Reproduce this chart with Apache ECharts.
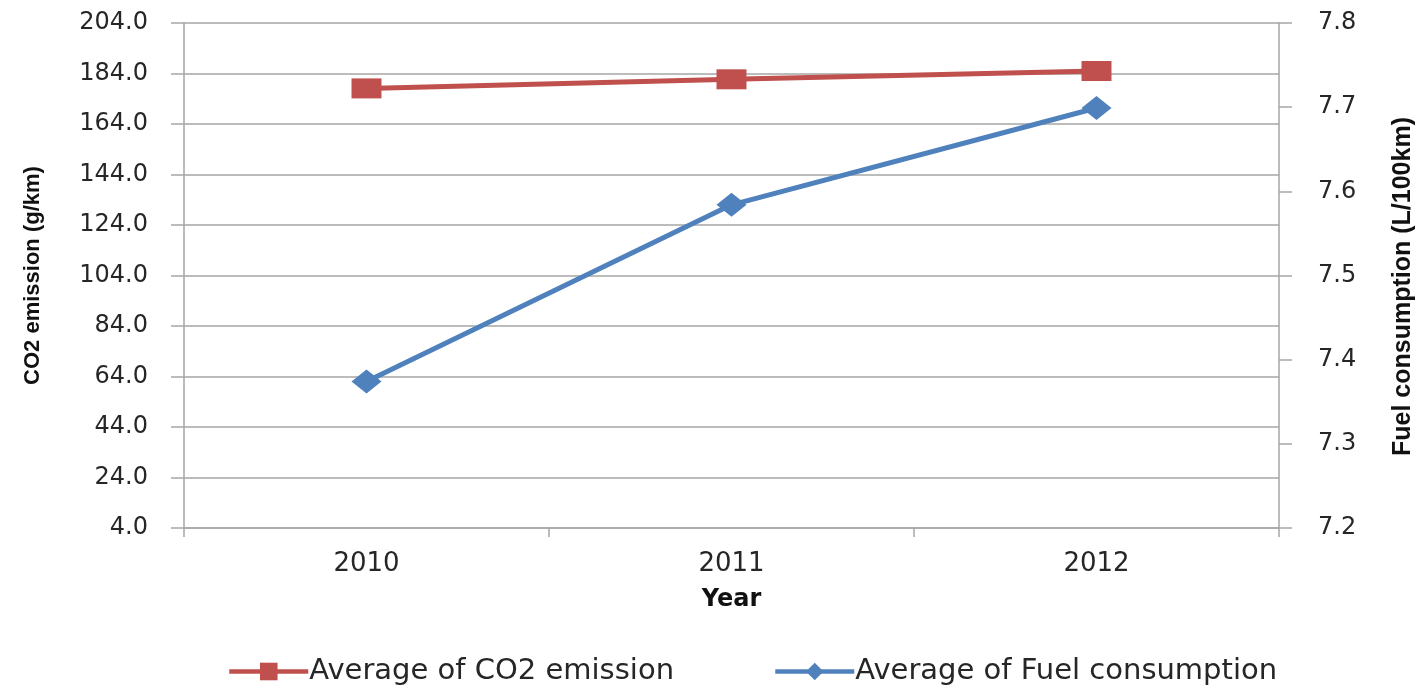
<!DOCTYPE html>
<html>
<head>
<meta charset="utf-8">
<script src="https://cdn.jsdelivr.net/npm/echarts@6/dist/echarts.min.js"></script>
<style>
  html, body { margin: 0; padding: 0; background: #fff; }
  #chart { width: 1420px; height: 685px; }
</style>
</head>
<body>
<div id="chart"></div>
<script>
  // values
  const years = ['2010', '2011', '2012'];
  const co2Emission = [178.1, 181.7, 185.0];
  const fuelConsumption = [7.374, 7.584, 7.699];

  const gridGray = '#a6a6a6';
  const labelColor = '#262626';

  // legend entry, one legend per item so each can sit where the original has it
  function legendAt(left, name) {
    return {
      left: left,
      top: 652,
      itemWidth: 79,
      itemHeight: 22,
      itemGap: 0,
      lineStyle: { width: 4.5 },
      textStyle: { fontFamily: 'DejaVu Sans', fontSize: 29, color: labelColor, padding: [0, 0, 0, -4] },
      data: [name]
    };
  }

  const chart = echarts.init(document.getElementById('chart'));
  const option = {
    backgroundColor: '#ffffff',
    animation: false,
    grid: { left: 184, right: 141, top: 23, bottom: 157, outerBoundsMode: 'none' },
    legend: [
      legendAt(222, 'Average of CO2 emission'),
      legendAt(768, 'Average of Fuel consumption')
    ],
    xAxis: {
      type: 'category',
      data: years,
      boundaryGap: true,
      name: 'Year',
      nameLocation: 'middle',
      nameGap: 60,
      nameTextStyle: { fontFamily: 'DejaVu Sans', fontWeight: 'bold', fontSize: 24, color: '#111' },
      axisLine: { lineStyle: { color: gridGray, width: 1.5 } },
      axisTick: { show: true, length: 9, lineStyle: { color: gridGray, width: 1.5 } },
      axisLabel: { margin: 23, fontFamily: 'DejaVu Sans', fontSize: 26, color: labelColor }
    },
    yAxis: [
      {
        type: 'value',
        min: 4,
        max: 204,
        interval: 20,
        name: 'CO2 emission (g/km)',
        nameLocation: 'middle',
        nameRotate: 90,
        nameGap: 140,
        nameTextStyle: { fontFamily: 'Liberation Sans', fontWeight: 'bold', fontSize: 22, color: '#111' },
        axisLine: { show: true, lineStyle: { color: gridGray, width: 1.5 } },
        axisTick: { show: true, length: 13, lineStyle: { color: gridGray, width: 1.5 } },
        axisLabel: {
          margin: 36,
          fontFamily: 'DejaVu Sans',
          fontSize: 24,
          color: labelColor,
          formatter: (v) => v.toFixed(1)
        },
        splitLine: { show: true, lineStyle: { color: gridGray, width: 1.5 } }
      },
      {
        type: 'value',
        min: 7.2,
        max: 7.8,
        interval: 0.1,
        position: 'right',
        name: 'Fuel consumption (L/100km)',
        nameLocation: 'middle',
        nameRotate: 90,
        nameGap: 112,
        nameTextStyle: {
          fontFamily: 'Liberation Sans',
          fontWeight: 'bold',
          fontSize: 25,
          color: '#111',
          padding: [0, 22, 0, 0]
        },
        axisLine: { show: true, lineStyle: { color: gridGray, width: 1.5 } },
        axisTick: { show: true, length: 13, lineStyle: { color: gridGray, width: 1.5 } },
        axisLabel: {
          margin: 39,
          fontFamily: 'DejaVu Sans',
          fontSize: 24,
          color: labelColor,
          formatter: (v) => v.toFixed(1)
        },
        splitLine: { show: false }
      }
    ],
    series: [
      {
        name: 'Average of CO2 emission',
        type: 'line',
        yAxisIndex: 0,
        data: co2Emission,
        symbol: 'rect',
        symbolSize: [30, 20],
        lineStyle: { color: '#c0504d', width: 5 },
        itemStyle: { color: '#c0504d' },
        z: 3
      },
      {
        name: 'Average of Fuel consumption',
        type: 'line',
        yAxisIndex: 1,
        data: fuelConsumption,
        symbol: 'diamond',
        symbolSize: [30, 24],
        lineStyle: { color: '#4f81bd', width: 5 },
        itemStyle: { color: '#4f81bd' },
        z: 2
      }
    ]
  };
  chart.setOption(option);
</script>
</body>
</html>
